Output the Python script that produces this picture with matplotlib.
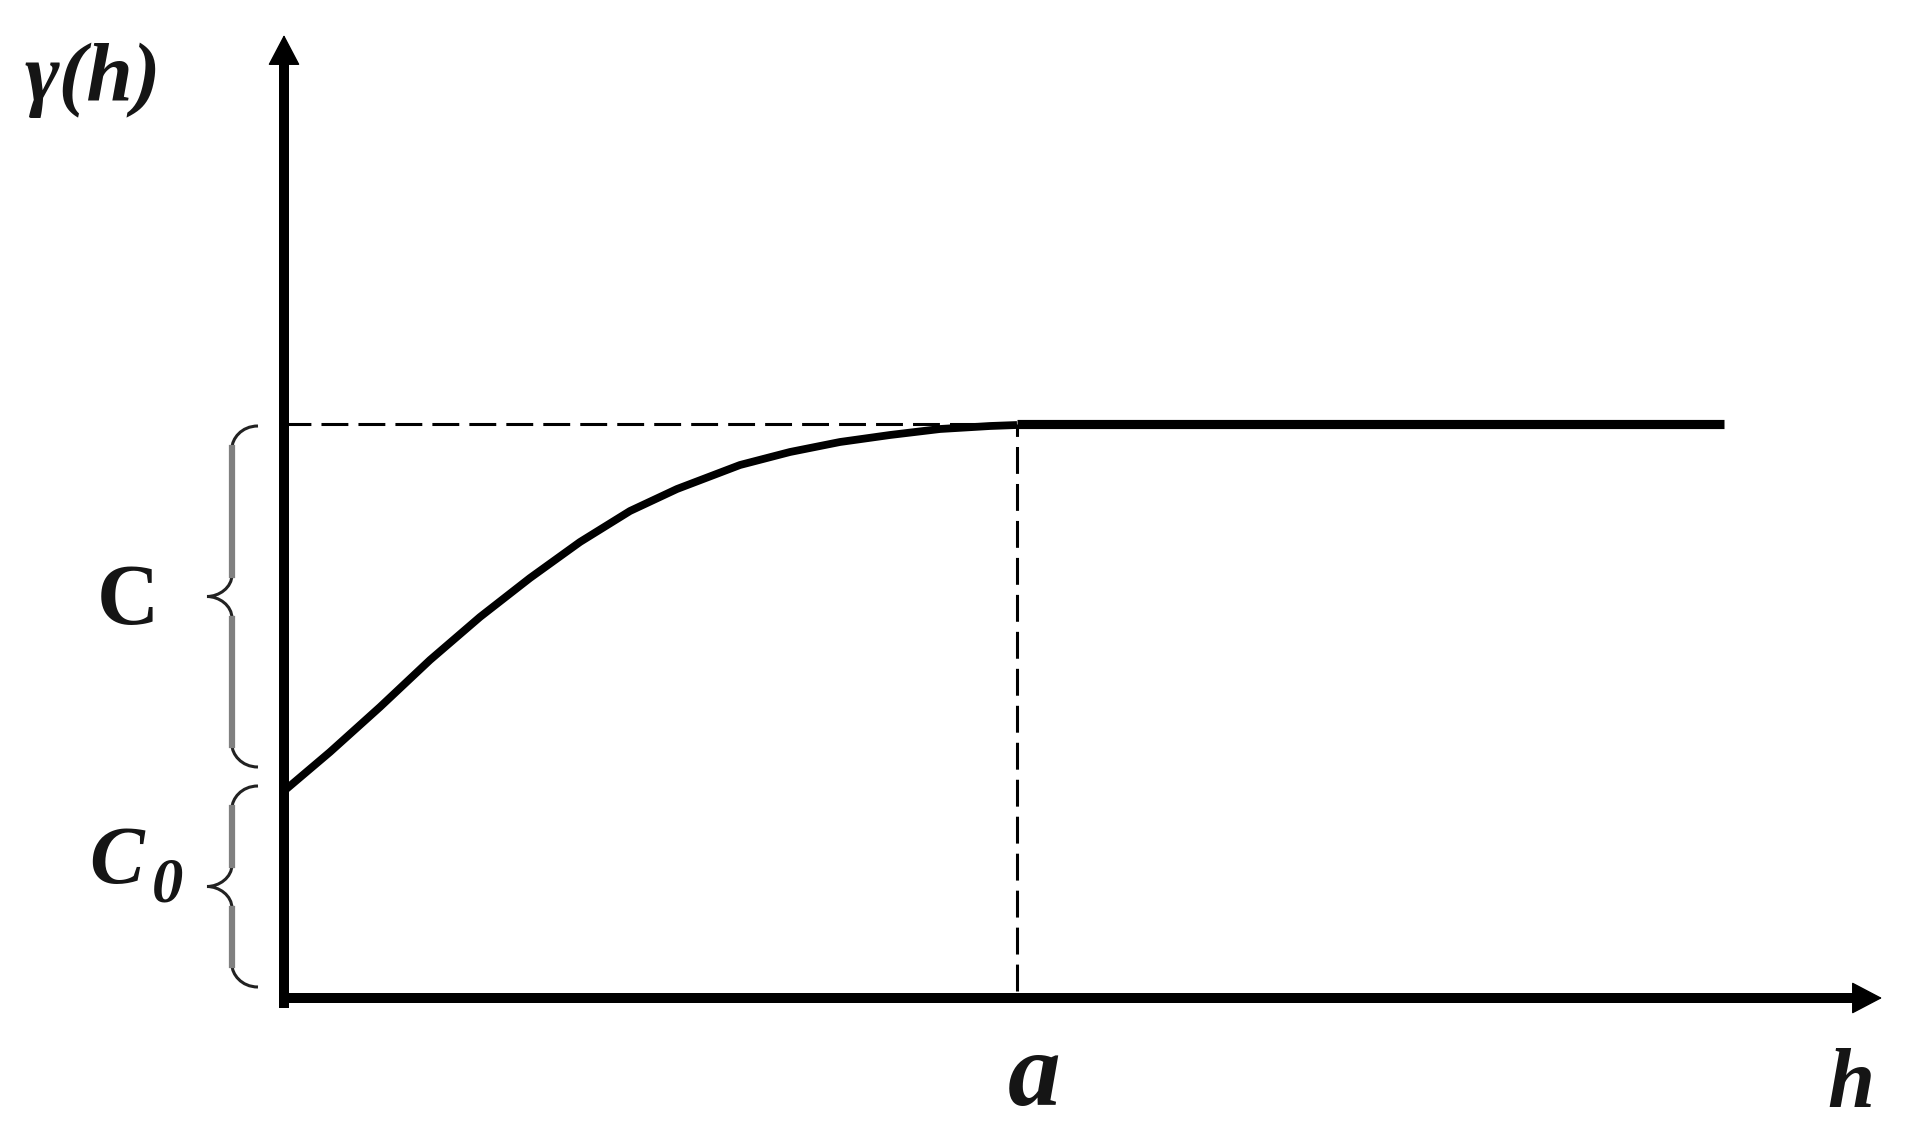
import matplotlib
matplotlib.use('Agg')
from matplotlib import pyplot as plt
from matplotlib.path import Path
from matplotlib.patches import PathPatch

# values (1 unit = 10 px of the reference)
nugget = 20.7      # C0
sill = 57.4        # C0 + C
a_range = 73.3     # a
h_end = 144.0      # where the flat line stops

h_curve = [0, 4.6, 9.6, 14.6, 19.6, 24.6, 29.6, 34.6, 39.3, 45.6, 50.6, 55.6, 60.6, 65.6, 70.6, 73.3]
gamma_curve = [20.7, 24.6, 29.1, 33.8, 38.1, 42.0, 45.6, 48.7, 50.9, 53.3, 54.6, 55.6, 56.3, 56.9, 57.2, 57.3]

h_flat = [a_range, h_end]
gamma_flat = [sill, sill]

serif = 'Liberation Serif'
ink = '#151515'

fig = plt.figure(figsize=(19.1, 11.31), dpi=100)
fig.patch.set_facecolor('white')
ax = fig.add_axes([0, 0, 1, 1])
ax.set_xlim(-28.4, 162.6)
ax.set_ylim(-13.3, 99.8)
ax.axis('off')

# dashed guides for sill and range
dash = (0, (8.8, 3.3))
ax.plot([0, a_range], [sill, sill], color='black', lw=2.2, ls=dash, zorder=2)
ax.plot([a_range, a_range], [0.7, sill], color='black', lw=2.2, ls=dash, zorder=2)

# variogram curve
ax.plot(h_curve, gamma_curve, color='black', lw=5.6, solid_capstyle='butt',
        solid_joinstyle='round', zorder=3)
ax.plot(h_flat, gamma_flat, color='black', lw=6.6, solid_capstyle='butt', zorder=3)

# axes with arrow heads
ax.plot([0, 0], [-1.0, 93.5], color='black', lw=7.2, solid_capstyle='butt', zorder=4)
ax.plot([-0.5, 157.0], [0, 0], color='black', lw=7.2, solid_capstyle='butt', zorder=4)
head = dict(arrowstyle='-|>,head_length=2.0,head_width=1.05', color='black', lw=1,
            shrinkA=0, shrinkB=0, mutation_scale=10)
ax.annotate('', xy=(0, 96.3), xytext=(0, 80), arrowprops=head, zorder=5)
ax.annotate('', xy=(159.8, 0), xytext=(140, 0), arrowprops=head, zorder=5)


def brace(y_top, y_bot, x_stem=-5.2, x_end=-2.6, x_tip=-7.7, r=2.2):
    ym = (y_top + y_bot) / 2
    verts = [
        (x_end, y_top),
        (x_stem + 0.9, y_top), (x_stem, y_top - 0.6 * r), (x_stem, y_top - r),
        (x_stem, ym + r),
        (x_stem, ym + 0.4 * r), (x_tip + 1.2, ym), (x_tip, ym),
        (x_tip + 1.2, ym), (x_stem, ym - 0.4 * r), (x_stem, ym - r),
        (x_stem, y_bot + r),
        (x_stem, y_bot + 0.6 * r), (x_stem + 0.9, y_bot), (x_end, y_bot),
    ]
    codes = [Path.MOVETO, Path.CURVE4, Path.CURVE4, Path.CURVE4, Path.LINETO,
             Path.CURVE4, Path.CURVE4, Path.CURVE4, Path.CURVE4, Path.CURVE4, Path.CURVE4,
             Path.LINETO, Path.CURVE4, Path.CURVE4, Path.CURVE4]
    ax.add_patch(PathPatch(Path(verts, codes), facecolor='none', edgecolor='#222222',
                           lw=2.2, zorder=3))
    # the long stems look grey and soft in the original
    ax.plot([x_stem, x_stem], [y_top - r, ym + r], color='#808080', lw=4.5, zorder=3)
    ax.plot([x_stem, x_stem], [ym - r, y_bot + r], color='#808080', lw=4.5, zorder=3)


brace(sill - 0.2, nugget + 2.4)
brace(nugget + 0.5, 1.1)

# labels
ax.text(-25.9, 89.8, 'γ(h)', family=serif, fontsize=60, fontweight='bold', style='italic',
        ha='left', va='baseline', color=ink)
ax.text(-15.6, 37.4, 'C', family=serif, fontsize=62, fontweight='bold',
        ha='center', va='baseline', color=ink)
ax.text(-19.5, 11.5, 'C', family=serif, fontsize=59, fontweight='bold', style='italic',
        ha='left', va='baseline', color=ink)
ax.text(-13.2, 9.7, '0', family=serif, fontsize=45, fontweight='bold', style='italic',
        ha='left', va='baseline', color=ink)
ax.text(a_range + 1.7, -10.7, 'a', family=serif, fontsize=76, fontweight='bold', style='italic',
        ha='center', va='baseline', color=ink)
ax.text(156.7, -10.9, 'h', family=serif, fontsize=61, fontweight='bold', style='italic',
        ha='center', va='baseline', color=ink)

plt.savefig('out.png', dpi=100, facecolor='white')
plt.close('all')
